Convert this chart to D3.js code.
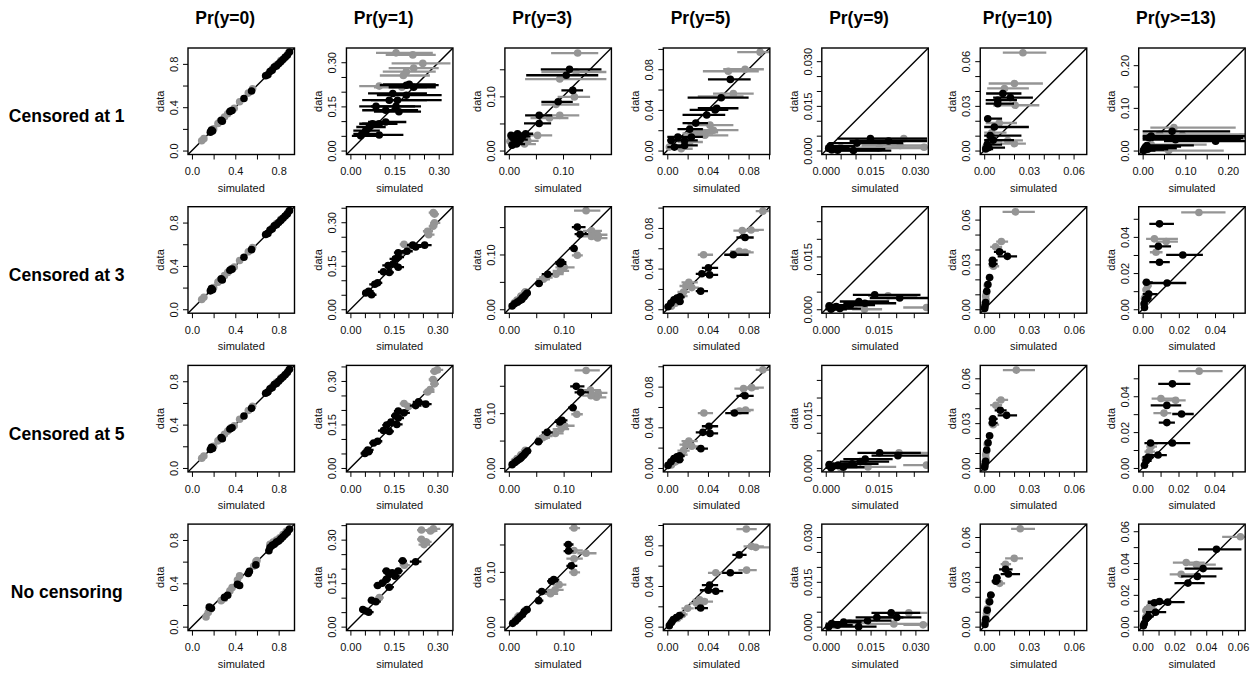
<!DOCTYPE html>
<html><head><meta charset="utf-8">
<script src="https://cdn.jsdelivr.net/npm/d3@7"></script>
<style>body{margin:0;background:#fff}svg{display:block}</style>
</head><body>
<svg id="chart" width="1255" height="677"></svg>
<script>
// ---------------- labels ----------------
const columnTitles = ["Pr(y=0)","Pr(y=1)","Pr(y=3)","Pr(y=5)","Pr(y=9)","Pr(y=10)","Pr(y>=13)"];
const rowLabels = ["Censored at 1","Censored at 3","Censored at 5","No censoring"];
const xAxisTitle = "simulated";
const yAxisTitle = "data";

// ---------------- axis limits (upper data limit; lower limit 0) ----------------
const row1Max = [0.91, 0.335, 0.182, 0.097, 0.0331, 0.0662, 0.231];
const row2Max = [0.91, 0.34, 0.18, 0.097, 0.028, 0.066, 0.0545];
const row3Max = [0.91, 0.34, 0.18, 0.097, 0.028, 0.066, 0.055];
const row4Max = [0.91, 0.34, 0.18, 0.097, 0.033, 0.066, 0.062];

const row1Step = [0.2, 0.05, 0.05, 0.02, 0.005, 0.01, 0.05];
const row2Step = [0.2, 0.05, 0.05, 0.02, 0.005, 0.01, 0.01];
const row3Step = [0.2, 0.05, 0.05, 0.02, 0.005, 0.01, 0.01];
const row4Step = [0.2, 0.05, 0.05, 0.02, 0.005, 0.01, 0.01];

const row1TickLabels = [["0.0","0.4","0.8"],["0.00","0.15","0.30"],["0.00","0.10"],["0.00","0.04","0.08"],["0.000","0.015","0.030"],["0.00","0.03","0.06"],["0.00","0.10","0.20"]];
const row2TickLabels = [["0.0","0.4","0.8"],["0.00","0.15","0.30"],["0.00","0.10"],["0.00","0.04","0.08"],["0.000","0.015"],["0.00","0.03","0.06"],["0.00","0.02","0.04"]];
const row3TickLabels = [["0.0","0.4","0.8"],["0.00","0.15","0.30"],["0.00","0.10"],["0.00","0.04","0.08"],["0.000","0.015"],["0.00","0.03","0.06"],["0.00","0.02","0.04"]];
const row4TickLabels = [["0.0","0.4","0.8"],["0.00","0.15","0.30"],["0.00","0.10"],["0.00","0.04","0.08"],["0.000","0.015","0.030"],["0.00","0.03","0.06"],["0.00","0.02","0.04","0.06"]];

// ---------------- points: [simulated, data, simulated lower, simulated upper] ----------------
// Pr(y=0), rows 1-3
const c1Black = [[0.17,0.17,0.15,0.19],[0.18,0.19,0.16,0.20],[0.19,0.18,0.17,0.21],[0.27,0.28,0.25,0.29],[0.28,0.27,0.26,0.30],[0.35,0.36,0.33,0.37],[0.37,0.37,0.35,0.39],[0.48,0.48,0.46,0.50],[0.55,0.55,0.53,0.57],[0.68,0.69,0.66,0.70],[0.70,0.70,0.68,0.72],[0.72,0.73,0.70,0.74],[0.74,0.74,0.72,0.76],[0.76,0.77,0.74,0.78],[0.78,0.78,0.76,0.80],[0.80,0.80,0.78,0.82],[0.82,0.82,0.80,0.84],[0.84,0.84,0.82,0.86],[0.86,0.86,0.84,0.88],[0.88,0.88,0.86,0.90],[0.90,0.91,0.88,0.92]];
const c1Grey = [[0.09,0.09,0.07,0.11],[0.11,0.11,0.09,0.13],[0.20,0.20,0.18,0.22],[0.24,0.25,0.22,0.26],[0.26,0.27,0.24,0.28],[0.30,0.31,0.28,0.32],[0.33,0.34,0.31,0.35],[0.36,0.37,0.34,0.38],[0.39,0.39,0.37,0.41],[0.44,0.45,0.42,0.46],[0.52,0.53,0.50,0.54],[0.56,0.57,0.54,0.58],[0.70,0.70,0.68,0.72],[0.74,0.75,0.72,0.76],[0.78,0.79,0.76,0.80],[0.82,0.83,0.80,0.84],[0.86,0.86,0.84,0.88],[0.89,0.90,0.87,0.91]];
// Pr(y=0), row 4
const r4c1Black = [[0.16,0.18,0.14,0.18],[0.18,0.17,0.16,0.20],[0.30,0.27,0.28,0.32],[0.33,0.29,0.31,0.35],[0.42,0.39,0.40,0.44],[0.44,0.38,0.42,0.46],[0.52,0.49,0.50,0.54],[0.53,0.51,0.51,0.55],[0.59,0.57,0.57,0.61],[0.71,0.70,0.69,0.73],[0.72,0.73,0.70,0.74],[0.74,0.75,0.72,0.76],[0.76,0.76,0.74,0.78],[0.78,0.78,0.76,0.80],[0.80,0.79,0.78,0.82],[0.82,0.81,0.80,0.84],[0.84,0.83,0.82,0.86],[0.86,0.85,0.84,0.88],[0.88,0.87,0.86,0.90],[0.90,0.90,0.88,0.92]];
const r4c1Grey = [[0.13,0.09,0.11,0.15],[0.15,0.13,0.13,0.17],[0.17,0.16,0.15,0.19],[0.27,0.24,0.25,0.29],[0.30,0.26,0.28,0.32],[0.35,0.33,0.33,0.37],[0.37,0.36,0.35,0.39],[0.42,0.43,0.40,0.44],[0.44,0.47,0.42,0.46],[0.57,0.56,0.55,0.59],[0.59,0.60,0.57,0.61],[0.60,0.61,0.58,0.62],[0.72,0.76,0.70,0.74],[0.75,0.78,0.73,0.77],[0.78,0.80,0.76,0.80],[0.81,0.82,0.79,0.83],[0.84,0.85,0.82,0.86],[0.87,0.88,0.85,0.89],[0.89,0.89,0.87,0.91]];

// Pr(y=1)
const r1c2Black = [[0.19,0.222,0.10,0.30],[0.20,0.225,0.11,0.29],[0.215,0.215,0.13,0.29],[0.144,0.194,0.06,0.26],[0.19,0.188,0.09,0.31],[0.132,0.171,0.04,0.26],[0.16,0.171,0.07,0.31],[0.087,0.15,0.03,0.22],[0.155,0.15,0.07,0.24],[0.12,0.137,0.04,0.23],[0.165,0.132,0.08,0.24],[0.075,0.091,0.03,0.15],[0.098,0.091,0.04,0.16],[0.12,0.097,0.06,0.19],[0.064,0.08,0.02,0.12],[0.052,0.068,0.01,0.10],[0.04,0.057,0.01,0.09],[0.098,0.053,0.04,0.18],[0.035,0.05,0.005,0.09]];
const r1c2Grey = [[0.155,0.332,0.087,0.28],[0.212,0.325,0.12,0.29],[0.246,0.296,0.14,0.34],[0.215,0.28,0.13,0.30],[0.19,0.268,0.11,0.29],[0.18,0.255,0.10,0.27],[0.098,0.219,0.03,0.29],[0.175,0.215,0.08,0.26]];
const r2c2Black = [[0.256,0.221,0.23,0.28],[0.215,0.221,0.195,0.235],[0.225,0.215,0.205,0.245],[0.195,0.20,0.175,0.215],[0.165,0.195,0.15,0.185],[0.165,0.18,0.145,0.185],[0.155,0.174,0.135,0.175],[0.147,0.156,0.13,0.165],[0.13,0.151,0.11,0.15],[0.165,0.145,0.15,0.185],[0.114,0.129,0.095,0.135],[0.134,0.127,0.115,0.15],[0.094,0.091,0.075,0.11],[0.084,0.086,0.065,0.10],[0.063,0.062,0.045,0.08],[0.053,0.056,0.04,0.07],[0.073,0.05,0.055,0.09]];
const r2c2Grey = [[0.286,0.333,0.27,0.30],[0.29,0.328,0.275,0.305],[0.29,0.298,0.275,0.31],[0.285,0.286,0.27,0.30],[0.266,0.269,0.25,0.285],[0.27,0.257,0.255,0.29],[0.185,0.224,0.17,0.20],[0.20,0.215,0.18,0.22],[0.17,0.19,0.155,0.185]];
const r3c2Black = [[0.235,0.228,0.215,0.255],[0.26,0.22,0.24,0.28],[0.225,0.215,0.205,0.245],[0.165,0.196,0.15,0.185],[0.185,0.19,0.165,0.205],[0.155,0.18,0.14,0.175],[0.165,0.172,0.145,0.185],[0.14,0.158,0.125,0.16],[0.16,0.15,0.14,0.18],[0.125,0.148,0.11,0.145],[0.114,0.129,0.095,0.135],[0.134,0.126,0.115,0.15],[0.094,0.092,0.075,0.11],[0.08,0.086,0.065,0.10],[0.06,0.062,0.045,0.08],[0.063,0.056,0.048,0.078],[0.05,0.05,0.035,0.065]];
const r3c2Grey = [[0.29,0.333,0.275,0.31],[0.30,0.338,0.285,0.32],[0.285,0.305,0.27,0.30],[0.29,0.29,0.275,0.305],[0.266,0.262,0.25,0.29],[0.275,0.27,0.26,0.29],[0.185,0.222,0.17,0.20],[0.20,0.212,0.185,0.225],[0.17,0.19,0.155,0.185]];
const r4c2Black = [[0.18,0.227,0.165,0.195],[0.225,0.224,0.205,0.245],[0.124,0.192,0.11,0.14],[0.144,0.186,0.13,0.16],[0.134,0.18,0.12,0.15],[0.154,0.174,0.14,0.17],[0.165,0.192,0.15,0.18],[0.124,0.163,0.11,0.14],[0.094,0.142,0.08,0.11],[0.134,0.136,0.12,0.15],[0.11,0.15,0.095,0.125],[0.073,0.091,0.06,0.09],[0.088,0.086,0.075,0.105],[0.043,0.059,0.03,0.055],[0.053,0.054,0.04,0.065],[0.063,0.05,0.05,0.08]];
const r4c2Grey = [[0.245,0.333,0.23,0.27],[0.276,0.33,0.26,0.30],[0.286,0.337,0.27,0.31],[0.245,0.301,0.23,0.265],[0.262,0.292,0.245,0.28],[0.254,0.283,0.235,0.275],[0.186,0.212,0.17,0.205],[0.10,0.10,0.085,0.115]];

// Pr(y=3)
const r1c3Black = [[0.112,0.15,0.059,0.171],[0.106,0.139,0.032,0.165],[0.118,0.111,0.097,0.137],[0.091,0.09,0.06,0.118],[0.056,0.065,0.03,0.08],[0.056,0.05,0.028,0.078],[0.004,0.028,0,0.02],[0.016,0.031,0,0.035],[0.031,0.031,0.015,0.045],[0.009,0.022,0,0.025],[0.021,0.02,0.005,0.035],[0.014,0.012,0,0.03],[0.006,0.01,0,0.02],[0.025,0.026,0.01,0.04]];
const r1c3Grey = [[0.127,0.18,0.078,0.165],[0.124,0.145,0.06,0.18],[0.094,0.132,0.03,0.18],[0.121,0.099,0.09,0.15],[0.087,0.085,0.06,0.13],[0.094,0.065,0.06,0.13],[0.075,0.06,0.04,0.11],[0.053,0.028,0.03,0.08],[0.002,0.017,0,0.02],[0.015,0.015,0,0.03],[0.029,0.012,0.01,0.05],[0.035,0.018,0.015,0.055]];
const r2c3Black = [[0.125,0.15,0.115,0.14],[0.13,0.137,0.12,0.145],[0.119,0.111,0.11,0.125],[0.0956,0.086,0.085,0.105],[0.0936,0.083,0.085,0.105],[0.071,0.064,0.06,0.08],[0.055,0.047,0.048,0.062],[0.0335,0.0297,0.026,0.04],[0.03,0.026,0.024,0.036],[0.0278,0.023,0.022,0.034],[0.0245,0.021,0.018,0.03],[0.0235,0.018,0.018,0.03],[0.02,0.0158,0.014,0.026],[0.0156,0.013,0.01,0.022],[0.0104,0.010,0.005,0.016],[0.006,0.006,0.002,0.01]];
const r2c3Grey = [[0.141,0.18,0.119,0.167],[0.151,0.143,0.135,0.17],[0.162,0.136,0.145,0.18],[0.162,0.13,0.145,0.18],[0.151,0.133,0.135,0.17],[0.125,0.0985,0.115,0.135],[0.101,0.0765,0.085,0.12],[0.094,0.07,0.08,0.11],[0.086,0.064,0.07,0.10],[0.066,0.058,0.055,0.08],[0.063,0.0547,0.05,0.075],[0.03,0.032,0.022,0.038],[0.022,0.024,0.015,0.03],[0.015,0.017,0.008,0.022],[0.01,0.012,0.004,0.016]];
const r3c3Black = [[0.123,0.149,0.112,0.138],[0.131,0.138,0.12,0.146],[0.117,0.11,0.108,0.124],[0.097,0.087,0.085,0.107],[0.093,0.084,0.083,0.104],[0.07,0.065,0.06,0.08],[0.054,0.048,0.047,0.062],[0.034,0.031,0.026,0.041],[0.03,0.027,0.024,0.036],[0.027,0.023,0.021,0.034],[0.024,0.021,0.018,0.03],[0.022,0.018,0.017,0.029],[0.019,0.016,0.013,0.025],[0.015,0.013,0.01,0.021],[0.011,0.010,0.005,0.016],[0.006,0.006,0.002,0.01]];
const r3c3Grey = [[0.141,0.178,0.12,0.166],[0.149,0.142,0.134,0.168],[0.163,0.137,0.146,0.18],[0.16,0.129,0.145,0.178],[0.15,0.132,0.134,0.17],[0.124,0.098,0.114,0.135],[0.102,0.077,0.086,0.12],[0.095,0.071,0.08,0.11],[0.085,0.063,0.07,0.10],[0.067,0.058,0.055,0.08],[0.062,0.055,0.05,0.075],[0.03,0.032,0.022,0.038],[0.022,0.024,0.015,0.03],[0.015,0.017,0.008,0.022],[0.01,0.012,0.004,0.016]];
const r4c3Black = [[0.1085,0.15,0.1,0.118],[0.109,0.138,0.1,0.118],[0.114,0.111,0.105,0.125],[0.082,0.086,0.072,0.092],[0.078,0.083,0.07,0.09],[0.06,0.064,0.05,0.07],[0.0545,0.0475,0.047,0.063],[0.033,0.031,0.026,0.04],[0.028,0.027,0.022,0.034],[0.025,0.022,0.019,0.031],[0.02,0.018,0.014,0.026],[0.016,0.014,0.011,0.022],[0.012,0.01,0.007,0.017],[0.007,0.006,0.003,0.011]];
const r4c3Grey = [[0.119,0.18,0.11,0.13],[0.119,0.139,0.105,0.135],[0.141,0.134,0.125,0.16],[0.119,0.124,0.105,0.135],[0.119,0.099,0.11,0.13],[0.0917,0.0767,0.08,0.105],[0.0845,0.0673,0.07,0.10],[0.076,0.06,0.065,0.09],[0.03,0.03,0.022,0.038],[0.018,0.02,0.01,0.025],[0.012,0.012,0.006,0.018]];

// Pr(y=5)
const r1c4Black = [[0.062,0.070,0.040,0.082],[0.053,0.052,0.02,0.08],[0.047,0.040,0.022,0.060],[0.0487,0.0416,0.03,0.07],[0.0388,0.035,0.015,0.057],[0.0038,0.010,0,0.012],[0.0104,0.0134,0,0.02],[0.017,0.010,0.005,0.03],[0.007,0.0034,0,0.015],[0.0237,0.0134,0.01,0.035],[0.017,0.005,0.005,0.03],[0.028,0.027,0.015,0.04],[0.022,0.021,0.01,0.035]];
const r1c4Grey = [[0.0913,0.0968,0.0688,0.11],[0.060,0.078,0.035,0.09],[0.0765,0.080,0.055,0.095],[0.0537,0.0533,0.03,0.075],[0.065,0.056,0.045,0.085],[0.042,0.025,0.02,0.065],[0.0454,0.020,0.025,0.07],[0.037,0.015,0.02,0.06],[0.002,0.0034,0,0.01],[0.0137,0.0018,0.005,0.025],[0.022,0.0084,0.01,0.035],[0.027,0.0168,0.015,0.045],[0.034,0.018,0.02,0.05]];
const r2c4Black = [[0.0765,0.0706,0.068,0.085],[0.0649,0.0536,0.056,0.08],[0.0404,0.0407,0.034,0.05],[0.034,0.0349,0.028,0.045],[0.0416,0.0338,0.032,0.05],[0.0328,0.0178,0.028,0.04],[0.0124,0.0122,0.008,0.017],[0.0095,0.011,0.005,0.014],[0.0066,0.0093,0.003,0.011],[0.0036,0.006,0.0,0.007],[0.0007,0.0025,0,0.004],[0.0124,0.0076,0.008,0.016]];
const r2c4Grey = [[0.094,0.0965,0.087,0.1],[0.0737,0.0774,0.065,0.09],[0.0824,0.078,0.072,0.095],[0.0708,0.057,0.062,0.082],[0.0765,0.056,0.065,0.085],[0.0357,0.0536,0.03,0.045],[0.0212,0.0264,0.014,0.03],[0.0182,0.0229,0.012,0.026],[0.0241,0.0213,0.017,0.031],[0.016,0.017,0.01,0.022],[0.014,0.013,0.008,0.02],[0.008,0.006,0.003,0.013],[0.004,0.003,0.0,0.008]];
const r3c4Black = [[0.0765,0.071,0.068,0.085],[0.066,0.054,0.057,0.08],[0.041,0.041,0.034,0.05],[0.035,0.035,0.028,0.045],[0.042,0.034,0.033,0.05],[0.033,0.019,0.028,0.04],[0.012,0.012,0.008,0.017],[0.0095,0.011,0.005,0.014],[0.0066,0.0093,0.003,0.011],[0.0036,0.006,0.0,0.007],[0.0007,0.0025,0,0.004],[0.012,0.008,0.008,0.016]];
const r3c4Grey = [[0.094,0.0965,0.087,0.1],[0.075,0.078,0.066,0.09],[0.083,0.079,0.073,0.095],[0.071,0.056,0.062,0.082],[0.077,0.057,0.066,0.085],[0.036,0.054,0.03,0.045],[0.0212,0.0264,0.014,0.03],[0.0182,0.0229,0.012,0.026],[0.0241,0.0213,0.017,0.031],[0.016,0.017,0.01,0.022],[0.014,0.013,0.008,0.02],[0.008,0.006,0.003,0.013],[0.004,0.003,0.0,0.008]];
const r4c4Black = [[0.0707,0.0706,0.064,0.078],[0.062,0.053,0.054,0.074],[0.0416,0.0409,0.034,0.05],[0.0404,0.0358,0.032,0.048],[0.0477,0.0349,0.04,0.055],[0.0328,0.0183,0.027,0.04],[0.012,0.011,0.007,0.017],[0.009,0.009,0.005,0.013],[0.006,0.007,0.002,0.01],[0.004,0.004,0,0.008],[0.002,0.001,0,0.005]];
const r4c4Grey = [[0.0777,0.096,0.068,0.088],[0.0828,0.079,0.075,0.095],[0.087,0.078,0.079,0.1],[0.078,0.0556,0.07,0.088],[0.0477,0.053,0.04,0.056],[0.0318,0.0264,0.025,0.04],[0.0288,0.023,0.022,0.036],[0.0364,0.0247,0.03,0.045],[0.02,0.018,0.014,0.026],[0.015,0.012,0.01,0.02],[0.01,0.008,0.005,0.015]];

// Pr(y=9)
const r1c5Black = [[0.0093,0.0,0.0005,0.022],[0.0105,0.0025,0.001,0.026],[0.015,0.0040,0.004,0.034],[0.0211,0.0032,0.008,0.034],[0.001,0.0008,0,0.008],[0.002,0.0003,0,0.012],[0.004,0.0001,0,0.018],[0.0015,0.0015,0,0.010],[0.003,0.0005,0,0.02]];
const r1c5Grey = [[0.0262,0.004,0.015,0.034],[0.025,0.0017,0.012,0.034],[0.033,0.0011,0.022,0.034],[0.002,0.0002,0,0.014],[0.005,0.001,0,0.025],[0.018,0.0008,0.005,0.034]];
const r2c5Black = [[0.0139,0.0041,0.0077,0.0269],[0.021,0.0032,0.0125,0.03],[0.0094,0.0022,0.004,0.018],[0.0111,0.0017,0.005,0.02],[0.0069,0.0012,0.002,0.014],[0.001,0.001,0,0.005],[0.002,0.0004,0,0.006],[0.003,0.0008,0,0.008],[0.0015,0,0,0.006],[0.004,0.0002,0,0.01]];
const r2c5Grey = [[0.0177,0.0038,0.012,0.026],[0.011,0.0,0.0075,0.016],[0.0286,0.0005,0.022,0.03],[0.002,0.0006,0,0.006],[0.004,0.0002,0.001,0.009],[0.006,0.001,0.002,0.012]];
const r3c5Black = [[0.0153,0.0043,0.009,0.027],[0.0205,0.0035,0.013,0.03],[0.0112,0.0025,0.005,0.019],[0.0098,0.0018,0.004,0.018],[0.0075,0.0012,0.002,0.015],[0.001,0.001,0,0.005],[0.002,0.0004,0,0.006],[0.0035,0.0008,0,0.009],[0.0015,0,0,0.006],[0.005,0.0002,0.001,0.011]];
const r3c5Grey = [[0.0208,0.0043,0.014,0.029],[0.012,0.0003,0.007,0.02],[0.0286,0.0008,0.022,0.03],[0.002,0.0006,0,0.006],[0.004,0.0002,0.001,0.009],[0.006,0.001,0.002,0.012]];
const r4c5Black = [[0.0219,0.0046,0.0153,0.0316],[0.0171,0.0031,0.01,0.026],[0.0238,0.0031,0.016,0.032],[0.014,0.002,0.007,0.022],[0.011,0.0,0.005,0.017],[0.002,0.001,0,0.006],[0.004,0.0005,0,0.009],[0.006,0.0015,0.001,0.012],[0.001,0,0,0.004]];
const r4c5Grey = [[0.0278,0.0046,0.021,0.034],[0.0228,0.0009,0.014,0.034],[0.0326,0.0006,0.026,0.034],[0.003,0.0005,0,0.008],[0.008,0.0012,0.003,0.014]];

// Pr(y=10)
const r1c6Black = [[0.0125,0.0383,0.0013,0.025],[0.0176,0.0356,0.006,0.0327],[0.0091,0.0338,0.001,0.022],[0.0091,0.0315,0.001,0.02],[0.0024,0.0214,0,0.012],[0.0068,0.0158,0,0.03],[0.004,0.010,0,0.025],[0.006,0.007,0,0.02],[0.002,0.004,0,0.012],[0.001,0.001,0,0.006],[0.003,0.002,0,0.014]];
const r1c6Grey = [[0.026,0.0657,0.0125,0.0417],[0.0203,0.045,0.003,0.0394],[0.0136,0.0417,0.002,0.03],[0.0208,0.0304,0.006,0.037],[0.0101,0.0185,0.001,0.022],[0.0203,0.0046,0.011,0.028],[0.0158,0.0068,0.004,0.026],[0.005,0.012,0,0.015],[0.003,0.006,0,0.012],[0.001,0.002,0,0.006]];
const r2c6Black = [[0.0103,0.0384,0.0065,0.0145],[0.0155,0.0354,0.009,0.022],[0.0056,0.0327,0.003,0.009],[0.0056,0.0304,0.003,0.009],[0.0036,0.0212,0.002,0.006],[0.0025,0.0166,0.001,0.004],[0.0017,0.012,0,0.003],[0.001,0.0045,0,0.002],[0.0005,0.002,0,0.0015],[0.0003,0.0005,0,0.001]];
const r2c6Grey = [[0.0209,0.0652,0.0123,0.0339],[0.0115,0.0453,0.008,0.016],[0.0076,0.0418,0.004,0.012],[0.0062,0.0288,0.003,0.01],[0.002,0.016,0,0.004],[0.0015,0.011,0,0.003],[0.001,0.0088,0,0.003],[0.0012,0.0063,0,0.003],[0.0005,0.004,0,0.002]];
const r3c6Black = [[0.0108,0.0386,0.007,0.015],[0.015,0.0352,0.009,0.022],[0.0058,0.0329,0.003,0.009],[0.0055,0.0302,0.003,0.009],[0.0036,0.0215,0.002,0.006],[0.0026,0.0168,0.001,0.004],[0.0017,0.012,0,0.003],[0.001,0.0045,0,0.002],[0.0005,0.002,0,0.0015],[0.0003,0.0005,0,0.001]];
const r3c6Grey = [[0.0215,0.0655,0.0125,0.034],[0.0112,0.0455,0.008,0.016],[0.0078,0.042,0.004,0.012],[0.006,0.029,0.003,0.01],[0.002,0.016,0,0.004],[0.0015,0.011,0,0.003],[0.001,0.0088,0,0.003],[0.0012,0.0063,0,0.003],[0.0005,0.004,0,0.002]];
const r4c6Black = [[0.0143,0.0384,0.01,0.019],[0.0162,0.0352,0.011,0.024],[0.0084,0.0327,0.006,0.011],[0.0078,0.0304,0.005,0.011],[0.0044,0.0212,0.002,0.007],[0.0036,0.0166,0.002,0.006],[0.002,0.011,0.001,0.004],[0.001,0.005,0,0.002],[0.0005,0.0015,0,0.001]];
const r4c6Grey = [[0.0241,0.0655,0.018,0.034],[0.0201,0.0457,0.014,0.026],[0.0143,0.0418,0.011,0.018],[0.0103,0.029,0.007,0.014],[0.003,0.017,0.001,0.005],[0.002,0.012,0,0.004],[0.0015,0.009,0,0.003],[0.001,0.006,0,0.002],[0.0005,0.0035,0,0.0015]];

// Pr(y>=13)
const r1c7Black = [[0.069,0.045,0.0,0.205],[0.077,0.0254,0.0,0.23],[0.171,0.022,0.05,0.26],[0.01,0.012,0,0.12],[0.005,0.006,0,0.08],[0.003,0.002,0,0.05],[0.012,0.003,0,0.06],[0.008,0.009,0,0.09],[0.002,0.0,0,0.03],[0.015,0.030,0,0.235],[0.02,0.034,0,0.24]];
const r1c7Grey = [[0.0732,0.0536,0.018,0.218],[0.093,0.0355,0.015,0.25],[0.23,0.031,0.13,0.26],[0.061,0.0,0.0,0.19],[0.01,0.004,0,0.08],[0.005,0.001,0,0.06],[0.04,0.038,0,0.24],[0.02,0.014,0,0.15]];
const r2c7Black = [[0.0093,0.0472,0.0037,0.0173],[0.0087,0.0348,0.0037,0.0157],[0.0222,0.030,0.013,0.0333],[0.0093,0.026,0.0037,0.015],[0.0021,0.0149,0,0.0056],[0.0135,0.0145,0.0019,0.0241],[0.0034,0.0084,0,0.0083],[0.0008,0.003,0,0.002],[0.0015,0.0055,0,0.004],[0.001,0.001,0,0.002],[0.0025,0.006,0.0005,0.005]];
const r2c7Grey = [[0.0311,0.0535,0.0213,0.0458],[0.0065,0.0389,0.0019,0.0195],[0.013,0.0374,0.0074,0.0195],[0.0074,0.0315,0.004,0.011],[0.0019,0.0108,0,0.004],[0.0028,0.013,0.001,0.005],[0.001,0.006,0,0.003],[0.0015,0.004,0,0.003]];
const r3c7Black = [[0.0166,0.0469,0.0087,0.0266],[0.0135,0.0349,0.0045,0.0215],[0.0217,0.0301,0.0165,0.0285],[0.0135,0.0253,0.009,0.018],[0.0044,0.0139,0.001,0.0085],[0.0166,0.0139,0.0025,0.0265],[0.0086,0.0072,0.0035,0.0135],[0.002,0.004,0,0.005],[0.001,0.0015,0,0.003],[0.003,0.006,0,0.006]];
const r3c7Grey = [[0.0315,0.054,0.02,0.0446],[0.0102,0.0387,0.005,0.018],[0.0184,0.0377,0.01,0.024],[0.0119,0.0306,0.006,0.016],[0.0047,0.0119,0.002,0.008],[0.0037,0.0091,0.001,0.007],[0.0015,0.005,0,0.004]];
const r4c7Black = [[0.0464,0.0486,0.0348,0.0621],[0.038,0.0365,0.0264,0.0502],[0.0344,0.0316,0.0242,0.0464],[0.0285,0.0274,0.02,0.039],[0.0158,0.0154,0.0074,0.0264],[0.0106,0.0158,0.0032,0.0148],[0.0074,0.015,0.0032,0.0148],[0.0081,0.0091,0.0021,0.0148],[0.0021,0.005,0,0.005],[0.001,0.002,0,0.003],[0.0035,0.0065,0.001,0.007],[0.0005,0.0005,0,0.0015]];
const r4c7Grey = [[0.0615,0.0565,0.05,0.07],[0.0274,0.0403,0.019,0.039],[0.0338,0.039,0.029,0.046],[0.0242,0.0329,0.017,0.034],[0.0021,0.0101,0,0.005],[0.0042,0.0122,0.001,0.008],[0.0053,0.0112,0.002,0.009],[0.002,0.006,0,0.005]];

// ---------------- assembly ----------------
const rowsMax = [row1Max, row2Max, row3Max, row4Max];
const rowsStep = [row1Step, row2Step, row3Step, row4Step];
const rowsLabels = [row1TickLabels, row2TickLabels, row3TickLabels, row4TickLabels];
const blackSets = [
  [c1Black, r1c2Black, r1c3Black, r1c4Black, r1c5Black, r1c6Black, r1c7Black],
  [c1Black, r2c2Black, r2c3Black, r2c4Black, r2c5Black, r2c6Black, r2c7Black],
  [c1Black, r3c2Black, r3c3Black, r3c4Black, r3c5Black, r3c6Black, r3c7Black],
  [r4c1Black, r4c2Black, r4c3Black, r4c4Black, r4c5Black, r4c6Black, r4c7Black]
];
const greySets = [
  [c1Grey, r1c2Grey, r1c3Grey, r1c4Grey, r1c5Grey, r1c6Grey, r1c7Grey],
  [c1Grey, r2c2Grey, r2c3Grey, r2c4Grey, r2c5Grey, r2c6Grey, r2c7Grey],
  [c1Grey, r3c2Grey, r3c3Grey, r3c4Grey, r3c5Grey, r3c6Grey, r3c7Grey],
  [r4c1Grey, r4c2Grey, r4c3Grey, r4c4Grey, r4c5Grey, r4c6Grey, r4c7Grey]
];

const FONT = "'Liberation Sans', Arial, Helvetica, sans-serif";
const GREY = "#959595";
const left0 = 188, colGap = 158.45, top0 = 48, rowGap = 158.7, size = 106.5;

const svg = d3.select("#chart");
svg.append("rect").attr("width",1255).attr("height",677).attr("fill","#fff");

columnTitles.forEach((t, c) => {
  svg.append("text").attr("x", left0 + c*colGap + size/2 - 16).attr("y", 24)
    .attr("text-anchor","middle").attr("font-family",FONT).attr("font-size",17.5)
    .attr("font-weight","bold").attr("fill","#000").text(t);
});
rowLabels.forEach((t, r) => {
  svg.append("text").attr("x", 66.7).attr("y", top0 + r*rowGap + size/2 + 21)
    .attr("text-anchor","middle").attr("font-family",FONT).attr("font-size",17.5)
    .attr("font-weight","bold").attr("fill","#000").text(t);
});

for (let r = 0; r < 4; r++) {
  for (let c = 0; c < 7; c++) {
    const L = left0 + c*colGap, T = top0 + r*rowGap;
    const M = rowsMax[r][c], step = rowsStep[r][c], labs = rowsLabels[r][c];
    const dom = [-0.04*M, 1.04*M];
    const x = d3.scaleLinear().domain(dom).range([L, L+size]);
    const y = d3.scaleLinear().domain(dom).range([T+size, T]);
    const nT = Math.floor(dom[1]/step + 1e-6);
    const ticks = d3.range(0, nT+1).map(i => +(i*step).toFixed(6));
    const dec = labs[0].split(".")[1].length;
    const fmt = d3.format("." + dec + "f");
    const lab = v => labs.includes(fmt(v)) ? fmt(v) : "";

    const g = svg.append("g");
    const clipId = "clip-" + r + "-" + c;
    svg.append("clipPath").attr("id", clipId).append("rect")
      .attr("x", L).attr("y", T).attr("width", size).attr("height", size);
    const plot = g.append("g").attr("clip-path", "url(#" + clipId + ")");

    plot.append("line").attr("x1", x(dom[0])).attr("y1", y(dom[0]))
      .attr("x2", x(dom[1])).attr("y2", y(dom[1]))
      .attr("stroke","#000").attr("stroke-width",1.4);

    const drawSet = (data, col) => {
      plot.append("g").selectAll("line").data(data).join("line")
        .attr("x1", d => x(d[2])).attr("x2", d => x(d[3]))
        .attr("y1", d => y(d[1])).attr("y2", d => y(d[1]))
        .attr("stroke", col).attr("stroke-width", 2.3);
      plot.append("g").selectAll("circle").data(data).join("circle")
        .attr("cx", d => x(d[0])).attr("cy", d => y(d[1])).attr("r", 3.8)
        .attr("fill", col);
    };
    drawSet(greySets[r][c], GREY);
    drawSet(blackSets[r][c], "#000");

    g.append("rect").attr("x", L).attr("y", T).attr("width", size).attr("height", size)
      .attr("fill","none").attr("stroke","#000").attr("stroke-width",1.4);

    const gx = g.append("g").attr("transform", "translate(0," + (T+size) + ")")
      .call(d3.axisBottom(x).tickValues(ticks).tickSize(5).tickPadding(8).tickFormat(lab));
    gx.select(".domain").remove();
    gx.attr("font-family", FONT).attr("font-size", 11);
    gx.selectAll("text").attr("fill", "#111");

    const gy = g.append("g").attr("transform", "translate(" + L + ",0)")
      .call(d3.axisLeft(y).tickValues(ticks).tickSize(5).tickFormat(lab));
    gy.select(".domain").remove();
    gy.attr("font-family", FONT).attr("font-size", 11);
    gy.selectAll("text").attr("transform","rotate(-90)").attr("x",0).attr("y",-10)
      .attr("dy", null).attr("text-anchor","middle").attr("fill","#111");

    g.append("text").attr("x", L + size/2).attr("y", T + size + 37)
      .attr("text-anchor","middle").attr("font-family",FONT).attr("font-size",11)
      .attr("fill","#111").text(xAxisTitle);
    g.append("text").attr("transform", "translate(" + (L - 24) + "," + (T + size/2) + ") rotate(-90)")
      .attr("text-anchor","middle").attr("font-family",FONT).attr("font-size",11)
      .attr("fill","#111").text(yAxisTitle);
  }
}
</script>
</body></html>
